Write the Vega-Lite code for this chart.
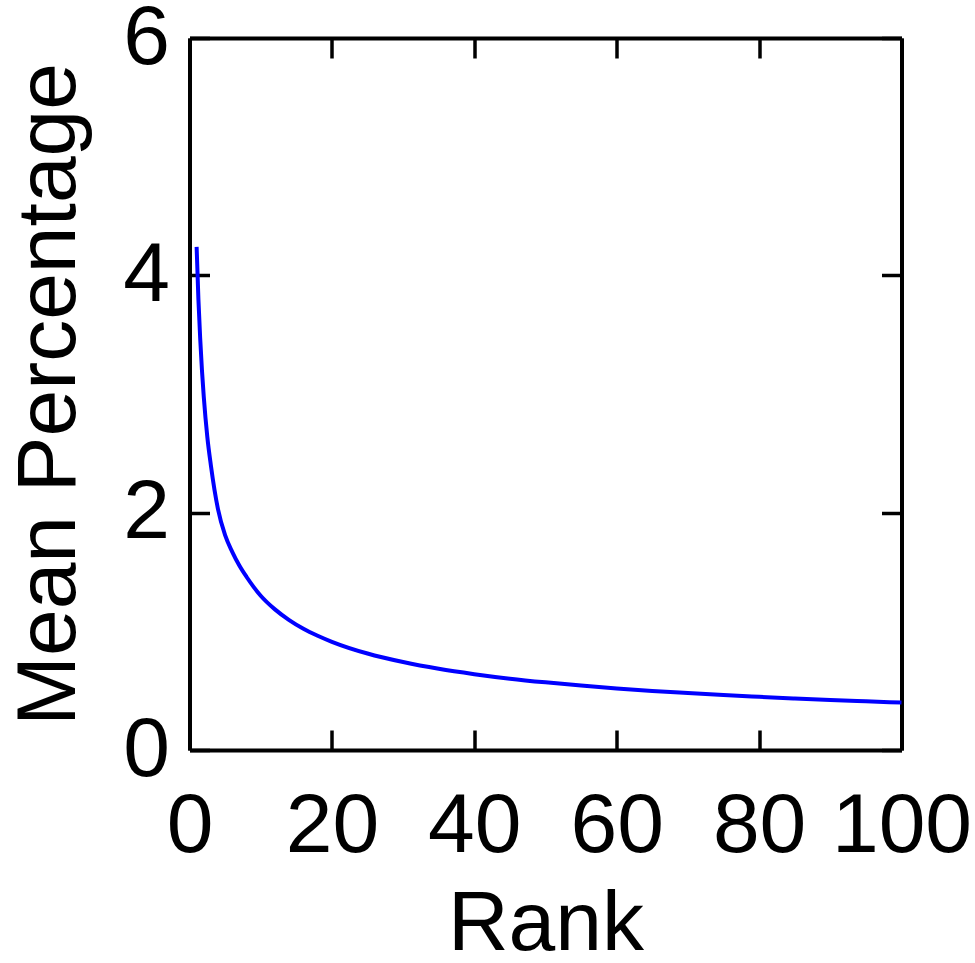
{
  "$schema": "https://vega.github.io/schema/vega-lite/v6.json",
  "width": 712,
  "height": 712,
  "autosize": {"type": "none"},
  "padding": {"left": 189.5, "top": 38, "right": 73.5, "bottom": 213},
  "background": "white",
  "config": {
    "view": {"stroke": null},
    "font": "Liberation Sans",
    "axis": {
      "domainColor": "black",
      "domainWidth": 4,
      "tickColor": "black",
      "tickWidth": 3.5,
      "tickSize": -20,
      "grid": false,
      "labelFont": "Liberation Sans",
      "labelFontSize": 84,
      "labelColor": "black",
      "labelFlush": false,
      "labelOverlap": false,
      "labelBound": false,
      "titleFont": "Liberation Sans",
      "titleFontSize": 84,
      "titleFontWeight": "normal",
      "titleColor": "black"
    }
  },
  "data": {
    "values": [
      {"rank": 1, "pct": 4.24},
      {"rank": 1.25, "pct": 3.80},
      {"rank": 1.5, "pct": 3.47},
      {"rank": 1.75, "pct": 3.20},
      {"rank": 2, "pct": 2.98},
      {"rank": 2.5, "pct": 2.64},
      {"rank": 3, "pct": 2.40},
      {"rank": 4, "pct": 2.03},
      {"rank": 5, "pct": 1.81},
      {"rank": 6, "pct": 1.67},
      {"rank": 7, "pct": 1.555},
      {"rank": 8, "pct": 1.46},
      {"rank": 9, "pct": 1.375},
      {"rank": 10, "pct": 1.30},
      {"rank": 12, "pct": 1.185},
      {"rank": 14, "pct": 1.095},
      {"rank": 16, "pct": 1.022},
      {"rank": 18, "pct": 0.963},
      {"rank": 20, "pct": 0.912},
      {"rank": 25, "pct": 0.813},
      {"rank": 30, "pct": 0.741},
      {"rank": 35, "pct": 0.684},
      {"rank": 40, "pct": 0.639},
      {"rank": 45, "pct": 0.601},
      {"rank": 50, "pct": 0.570},
      {"rank": 55, "pct": 0.543},
      {"rank": 60, "pct": 0.519},
      {"rank": 65, "pct": 0.498},
      {"rank": 70, "pct": 0.480},
      {"rank": 75, "pct": 0.463},
      {"rank": 80, "pct": 0.448},
      {"rank": 85, "pct": 0.434},
      {"rank": 90, "pct": 0.421},
      {"rank": 95, "pct": 0.410},
      {"rank": 100, "pct": 0.400}
    ]
  },
  "layer": [
    {
      "mark": {"type": "line", "color": "#0000FF", "strokeWidth": 4, "interpolate": "monotone"},
      "encoding": {
        "x": {
          "field": "rank", "type": "quantitative",
          "scale": {"domain": [0, 100], "nice": false, "zero": false},
          "axis": {"orient": "bottom", "values": [0, 20, 40, 60, 80, 100], "title": "Rank", "labelPadding": 55, "titlePadding": 15}
        },
        "y": {
          "field": "pct", "type": "quantitative",
          "scale": {"domain": [0, 6], "nice": false},
          "axis": {"orient": "left", "values": [0, 2, 4, 6], "title": "Mean Percentage", "labelPadding": 40, "titlePadding": 30}
        }
      }
    },
    {
      "mark": {"type": "line", "strokeOpacity": 0},
      "encoding": {
        "x": {
          "field": "rank", "type": "quantitative",
          "axis": {"orient": "top", "values": [0, 20, 40, 60, 80, 100], "labels": false, "title": null}
        },
        "y": {
          "field": "pct", "type": "quantitative",
          "axis": {"orient": "right", "values": [0, 2, 4, 6], "labels": false, "title": null}
        }
      }
    }
  ],
  "resolve": {"axis": {"x": "independent", "y": "independent"}}
}
